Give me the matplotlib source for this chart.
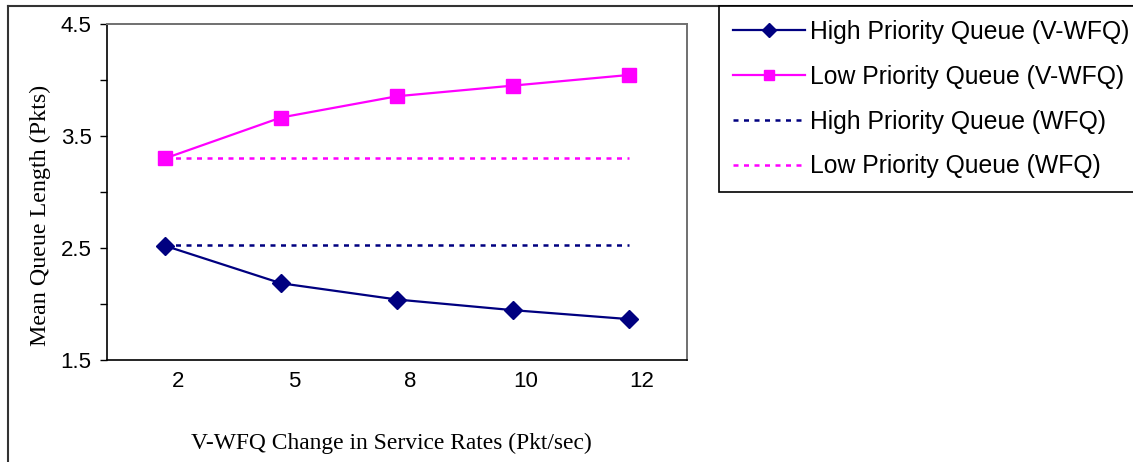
import matplotlib
matplotlib.use("Agg")
import matplotlib.pyplot as plt
import matplotlib.transforms as mtransforms
from matplotlib.lines import Line2D

categories = ["2", "5", "8", "10", "12"]
high_vwfq = [2.52, 2.185, 2.04, 1.945, 1.865]
low_vwfq = [3.30, 3.665, 3.855, 3.95, 4.045]
high_wfq = [2.525, 2.525, 2.525, 2.525, 2.525]
low_wfq = [3.305, 3.305, 3.305, 3.305, 3.305]
yticks = [1.5, 2.5, 3.5, 4.5]
yminor = [2.0, 3.0, 4.0]

plt.rcParams["font.family"] = ["Liberation Sans", "DejaVu Sans"]

W, H = 1133, 462
fig = plt.figure(figsize=(W / 100, H / 100), dpi=100)
ax = fig.add_axes([107 / W, 1 - 360 / H, 580 / W, 336 / H])

x = list(range(len(categories)))
navy = "#000080"
mag = "#FF00FF"
ax.plot(x, high_vwfq, color=navy, lw=1.6, marker="D", ms=9, label="High Priority Queue (V-WFQ)")
ax.plot(x, low_vwfq, color=mag, lw=1.6, marker="s", ms=10, label="Low Priority Queue (V-WFQ)")
ax.plot(x, high_wfq, color=navy, lw=1.8, ls=(0, (2, 2.2)), label="High Priority Queue (WFQ)")
ax.plot(x, low_wfq, color=mag, lw=1.8, ls=(0, (2, 2.2)), label="Low Priority Queue (WFQ)")

ax.set_xlim(-0.5, len(categories) - 0.5)
ax.set_ylim(1.5, 4.5)
ax.set_yticks(yticks)
ax.set_yticks(yminor, minor=True)
ax.set_xticks(x)
ax.set_xticklabels(categories)
ax.tick_params(axis="both", which="both", labelsize=16)
ax.tick_params(axis="y", which="both", direction="out", length=5, width=1, pad=6)
ax.tick_params(axis="x", length=0, pad=8)
off = mtransforms.ScaledTranslation(13 / 100, 0, fig.dpi_scale_trans)
for lab in ax.get_xticklabels():
    lab.set_transform(lab.get_transform() + off)

for s in ["left", "bottom"]:
    ax.spines[s].set_color("black")
    ax.spines[s].set_linewidth(1.2)
for s in ["top", "right"]:
    ax.spines[s].set_color("#707070")
    ax.spines[s].set_linewidth(1.4)

fig.text(40 / W, 1 - 215 / H, "Mean Queue Length (Pkts)", rotation=90, ha="center", va="center",
         fontfamily="Liberation Serif", fontsize=17.3)
fig.text(391 / W, 1 - 443 / H, "V-WFQ Change in Service Rates (Pkt/sec)", ha="center", va="center",
         fontfamily="Liberation Serif", fontsize=16.9)

# outer frame
fig.add_artist(Line2D([8 / W, 8 / W], [0, 1 - 6 / H], color="#333333", lw=1.5))
fig.add_artist(Line2D([8 / W, 1], [1 - 6 / H, 1 - 6 / H], color="#333333", lw=1.5))

leg = fig.legend(loc="upper left", bbox_to_anchor=(719 / W, 1 - 6 / H), borderaxespad=0,
                 frameon=True, fancybox=False, edgecolor="black", framealpha=1,
                 prop={"family": "Liberation Sans", "size": 17.8},
                 handlelength=2.9, handletextpad=0.2, labelspacing=0.84,
                 borderpad=0.57, markerscale=0.75)
leg.get_frame().set_linewidth(1.2)

fig.savefig("out.png", dpi=100)
